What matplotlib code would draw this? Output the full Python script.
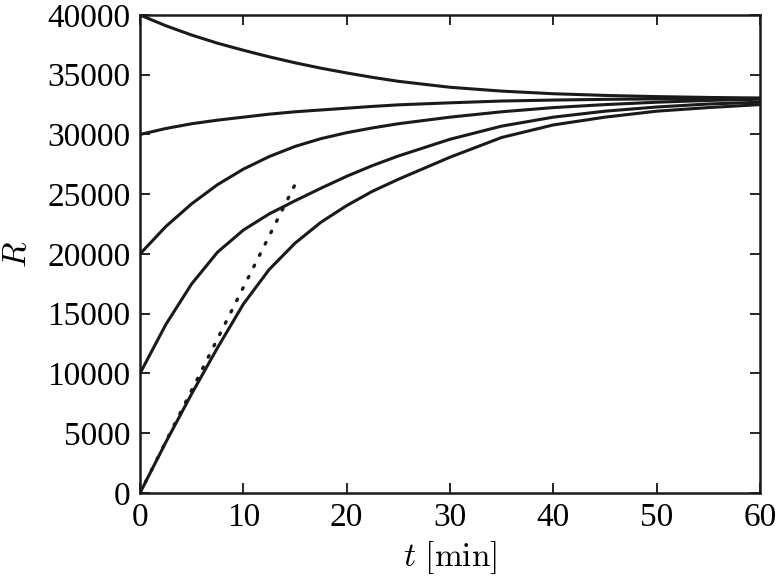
import numpy as np
import matplotlib.pyplot as plt

plt.rcParams['font.family'] = 'serif'
plt.rcParams['font.serif'] = ['Liberation Serif', 'DejaVu Serif']
plt.rcParams['mathtext.fontset'] = 'cm'

# time grid [min] and the curves
t = [0, 2.5, 5, 7.5, 10, 12.5, 15, 17.5, 20, 22.5, 25, 30, 35, 40, 45, 50, 55, 60]
R_0 = [0, 4250, 8300, 12150, 15800, 18700, 20900, 22650, 24050, 25250, 26250,
       28100, 29750, 30800, 31450, 31950, 32250, 32500]
R_10k = [10000, 14100, 17500, 20150, 22000, 23350, 24450, 25500, 26500, 27400, 28200,
         29600, 30700, 31450, 31950, 32300, 32550, 32700]
R_20k = [20000, 22300, 24200, 25800, 27100, 28150, 29000, 29650, 30150, 30550, 30900,
         31450, 31900, 32250, 32500, 32700, 32850, 32950]
R_30k = [30000, 30500, 30900, 31200, 31450, 31700, 31900, 32050, 32200, 32350, 32480,
         32650, 32800, 32880, 32940, 32980, 33000, 33020]
R_40k = [40000, 39100, 38320, 37640, 37050, 36500, 36000, 35550, 35150, 34780, 34450,
         33950, 33630, 33410, 33270, 33170, 33100, 33050]

# initial slope line
tan_t = [0, 15]
tan_R = [0, 25800]

fig = plt.figure(figsize=(7.76, 5.83), dpi=100)
ax = fig.add_axes([0.1804, 0.1544, 0.799, 0.8199])

for R in [R_0, R_10k, R_20k, R_30k, R_40k]:
    ax.plot(t, R, color='#1a1a1a', lw=2.2, solid_joinstyle='round')
ax.plot(tan_t, tan_R, color='#1a1a1a', lw=2.4, linestyle=(0, (0.5, 3.3)),
        dash_capstyle='round')

ax.set_xlim(0, 60)
ax.set_ylim(0, 40000)
ax.set_xticks(np.arange(0, 61, 10))
ax.set_yticks(np.arange(0, 40001, 5000))
ax.tick_params(direction='in', top=True, right=True, length=7, width=1.2,
               labelsize=24, pad=7)
for s in ax.spines.values():
    s.set_linewidth(1.8)
    s.set_color('#1a1a1a')

ax.set_xlabel(r'$t\ [\mathrm{min}]$', fontsize=24, labelpad=4)
ax.set_ylabel(r'$R$', fontsize=24, labelpad=10)

fig.savefig('out.png', dpi=100)
